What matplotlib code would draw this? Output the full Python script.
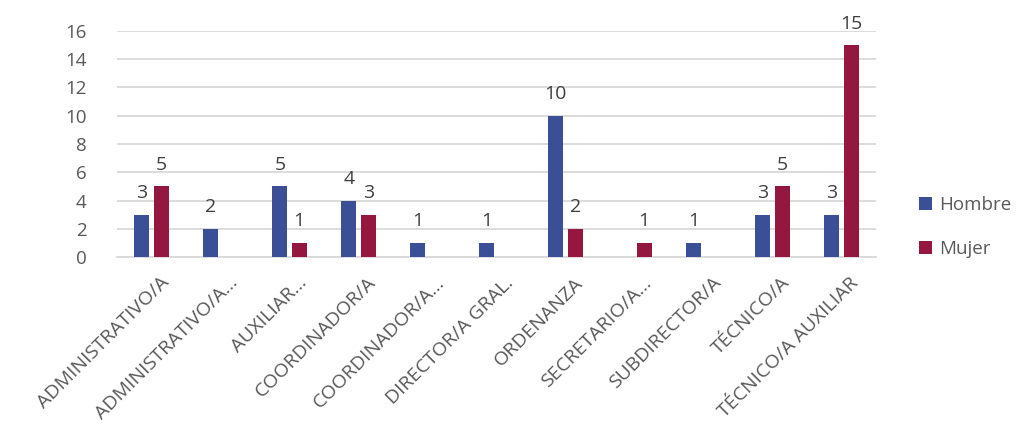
import numpy as np
import matplotlib
matplotlib.use("Agg")
import matplotlib.pyplot as plt

categories = ["ADMINISTRATIVO/A", "ADMINISTRATIVO/A...", "AUXILIAR...", "COORDINADOR/A",
              "COORDINADOR/A...", "DIRECTOR/A GRAL.", "ORDENANZA", "SECRETARIO/A...",
              "SUBDIRECTOR/A", "TÉCNICO/A", "TÉCNICO/A AUXILIAR"]
hombre = [3, 2, 5, 4, 1, 1, 10, 0, 1, 3, 3]
mujer = [5, 0, 1, 3, 0, 0, 2, 1, 0, 5, 15]

plt.rcParams['font.family'] = ['Open Sans', 'DejaVu Sans']
text_color = "#595959"
grid_color = "#D9D9D9"
blue = "#3A4F96"
red = "#93173E"

fig = plt.figure(figsize=(10.18, 4.28), dpi=100)
ax = fig.add_axes([0.115, 0.3995, 0.7455, 0.5281])

x = np.arange(len(categories))
w = 0.22
off = 0.14
b1 = ax.bar(x - off, hombre, w, color=blue, label="Hombre", zorder=3)
b2 = ax.bar(x + off, mujer, w, color=red, label="Mujer", zorder=3)

# value labels, skipping empty categories
for bars, vals in ((b1, hombre), (b2, mujer)):
    for bar, v in zip(bars, vals):
        if v == 0:
            continue
        ax.annotate(str(v), (bar.get_x() + bar.get_width() / 2, v),
                    xytext=(0, 9), textcoords="offset points",
                    ha="center", va="bottom", fontsize=14, color="#404040")

ax.set_xlim(-0.5, len(categories) - 0.5)
ax.set_ylim(0, 16)
ax.set_yticks(range(0, 17, 2))
ax.yaxis.grid(True, color=grid_color, linewidth=1.3, zorder=0)
ax.set_axisbelow(True)
for s in ("top", "right", "left"):
    ax.spines[s].set_visible(False)
ax.spines["bottom"].set_color(grid_color)
ax.spines["bottom"].set_linewidth(1.3)
ax.tick_params(axis="y", length=0, labelsize=13.5, colors=text_color, pad=22)
ax.tick_params(axis="x", length=0, labelsize=14, colors=text_color, pad=12)

ax.set_xticks(x)
ax.set_xticklabels(categories, rotation=45, ha="right", va="top",
                   rotation_mode="anchor")
for lbl in ax.get_xticklabels():
    lbl.set_transform(lbl.get_transform() + matplotlib.transforms.ScaledTranslation(8 / 100, 0, fig.dpi_scale_trans))

leg = fig.legend(handles=[b1, b2], loc="center left", bbox_to_anchor=(0.886, 0.47),
                 frameon=False, fontsize=13.5, handlelength=0.7, handleheight=0.7,
                 handletextpad=0.4, labelspacing=1.4)
for t in leg.get_texts():
    t.set_color(text_color)

fig.savefig("out.png", dpi=100)
